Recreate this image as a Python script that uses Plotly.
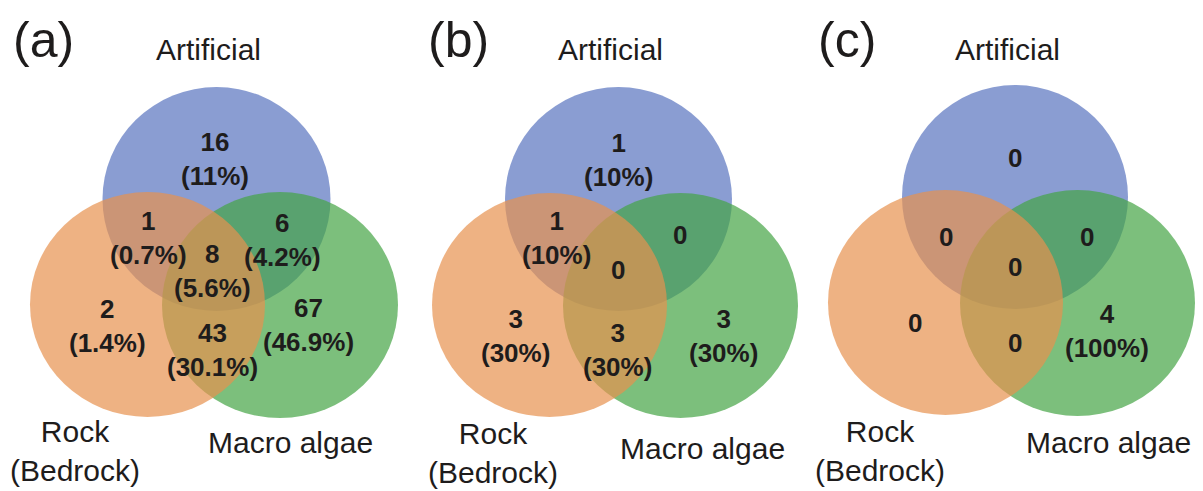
import plotly.graph_objects as go

# ---- data -------------------------------------------------------------
# region order: Artificial only, Rock only, Macro algae only,
#               Artificial & Rock, Artificial & Macro algae, Rock & Macro algae, all three
set_names = ["Artificial", "Rock<br>(Bedrock)", "Macro algae"]
panel_tags = ["(a)", "(b)", "(c)"]

counts_a = [16, 2, 67, 1, 6, 43, 8]
pct_a = ["11%", "1.4%", "46.9%", "0.7%", "4.2%", "30.1%", "5.6%"]

counts_b = [1, 3, 3, 1, 0, 3, 0]
pct_b = ["10%", "30%", "30%", "10%", "", "30%", ""]

counts_c = [0, 0, 4, 0, 0, 0, 0]
pct_c = ["", "", "100%", "", "", "", ""]

panels = [(counts_a, pct_a), (counts_b, pct_b), (counts_c, pct_c)]

# ---- layout geometry (pixel space, y downwards) -----------------------
W, H = 1203, 491
# circles per panel: (cx, cy, rx, ry) for Artificial, Rock, Macro algae
circles = [
    [(216.5, 199, 114, 112), (147.5, 304.5, 117.5, 112.5), (280, 305, 118, 113)],
    [(618.5, 199, 113.5, 112), (549.5, 305, 117.5, 112), (680.5, 305.5, 117.5, 112.5)],
    [(1015, 197, 113, 112), (945.5, 302.5, 117.5, 112.5), (1077.5, 303, 117.5, 113)],
]
# label anchor points for the seven regions
region_xy = [
    [(215, 159), (107, 326), (308, 325), (148, 238), (282, 240), (212, 271), (212, 350)],
    [(618, 160), (515, 336), (723, 336), (556, 238), (680, 235), (618, 270), (617, 350)],
    [(1015, 158), (915, 323), (1107, 331), (946, 237), (1087, 237), (1015, 267), (1015, 343)],
]
name_xy = [
    [(208, 49), (75, 451), (290, 442)],
    [(610, 49), (493, 453), (702, 448)],
    [(1007, 49), (880, 451), (1108, 442)],
]
tag_xy = [(43, 40), (458, 40), (847, 40)]

# fill colours, drawn in order Artificial, Macro algae, Rock with transparency
fills = {0: "rgb(89,115,191)", 1: "rgb(231,145,78)", 2: "rgb(69,164,68)"}
draw_order = [0, 2, 1]
ALPHA = 0.7

FONT = "Liberation Sans, Arial, sans-serif"
INK = "#1e1c1c"

fig = go.Figure()
shapes = []
annotations = []

for p, (counts, pcts) in enumerate(panels):
    for k in draw_order:
        cx, cy, rx, ry = circles[p][k]
        shapes.append(dict(
            type="circle", xref="x", yref="y",
            x0=cx - rx, x1=cx + rx, y0=cy - ry, y1=cy + ry,
            fillcolor=fills[k], opacity=ALPHA, line=dict(width=0), layer="below",
        ))

    # region order in the anchor table: A, R, M, A&R, A&M, all three, R&M
    order = [0, 1, 2, 3, 4, 6, 5]
    for slot, r in enumerate(order):
        n, pc = counts[r], pcts[r]
        x, y = region_xy[p][slot]
        label = f"<b>{n}</b>" + (f"<br><b>({pc})</b>" if pc else "")
        annotations.append(dict(
            x=x, y=y, xref="x", yref="y", text=label, showarrow=False,
            xanchor="center", yanchor="middle", align="center",
            font=dict(family=FONT, size=26, color=INK),
        ))

    for k, name in enumerate(set_names):
        x, y = name_xy[p][k]
        annotations.append(dict(
            x=x, y=y, xref="x", yref="y", text=name, showarrow=False,
            xanchor="center", yanchor="middle", align="center",
            font=dict(family=FONT, size=30, color=INK),
        ))

    tx, ty = tag_xy[p]
    annotations.append(dict(
        x=tx, y=ty, xref="x", yref="y", text=panel_tags[p], showarrow=False,
        xanchor="center", yanchor="middle",
        font=dict(family=FONT, size=50, color=INK),
    ))

# invisible trace so the axes are established
fig.add_trace(go.Scatter(x=[0, W], y=[0, H], mode="markers",
                         marker=dict(opacity=0), hoverinfo="skip", showlegend=False))

fig.update_layout(
    width=W, height=H,
    margin=dict(l=0, r=0, t=0, b=0),
    paper_bgcolor="white", plot_bgcolor="white",
    xaxis=dict(range=[0, W], visible=False, fixedrange=True),
    yaxis=dict(range=[H, 0], visible=False, fixedrange=True),
    shapes=shapes, annotations=annotations,
    showlegend=False,
)

fig.write_html("out.html", config={"displayModeBar": False})
